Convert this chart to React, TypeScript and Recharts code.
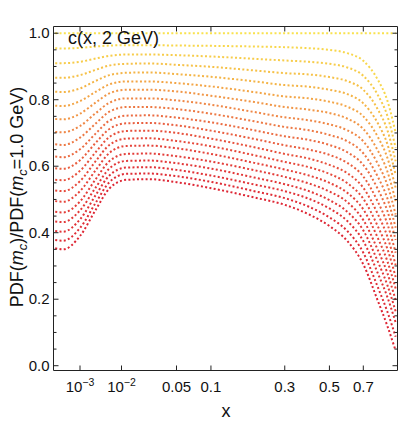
import React from 'react';
import { LineChart, Line, XAxis, YAxis } from 'recharts';

// x sample points (the axis is drawn on a cube-root scale, like the original)
const xPoints = [3e-5, 1.5e-4, 1e-3, 3e-3, 6e-3, 0.012, 0.025, 0.05, 0.1, 0.2, 0.3, 0.4, 0.5, 0.6, 0.7, 0.8, 0.87, 0.935];

// PDF(m_c)/PDF(m_c=1.0 GeV) for c(x, 2 GeV), one list per charm mass
const mc100 = [1, 1, 1, 1, 1, 1, 1, 1, 1, 1, 1, 1, 1, 1, 1, 1, 1, 1];
const mc105 = [0.955, 0.954, 0.956, 0.96, 0.963, 0.964, 0.964, 0.963, 0.962, 0.96, 0.958, 0.955, 0.95, 0.94, 0.917, 0.86, 0.798, 0.7];
const mc110 = [0.91, 0.91, 0.914, 0.924, 0.932, 0.936, 0.936, 0.934, 0.93, 0.923, 0.918, 0.914, 0.908, 0.897, 0.872, 0.814, 0.752, 0.655];
const mc115 = [0.866, 0.866, 0.874, 0.89, 0.903, 0.908, 0.909, 0.905, 0.899, 0.888, 0.88, 0.876, 0.868, 0.856, 0.83, 0.771, 0.709, 0.615];
const mc120 = [0.824, 0.823, 0.834, 0.857, 0.874, 0.881, 0.882, 0.877, 0.869, 0.855, 0.844, 0.839, 0.83, 0.817, 0.789, 0.729, 0.667, 0.575];
const mc125 = [0.782, 0.781, 0.796, 0.824, 0.846, 0.855, 0.855, 0.85, 0.84, 0.823, 0.81, 0.804, 0.794, 0.779, 0.75, 0.688, 0.626, 0.535];
const mc130 = [0.742, 0.741, 0.758, 0.792, 0.819, 0.83, 0.83, 0.825, 0.812, 0.793, 0.778, 0.77, 0.76, 0.743, 0.712, 0.647, 0.585, 0.495];
const mc135 = [0.703, 0.702, 0.721, 0.76, 0.791, 0.804, 0.804, 0.798, 0.785, 0.763, 0.747, 0.738, 0.726, 0.708, 0.675, 0.607, 0.544, 0.455];
const mc140 = [0.666, 0.664, 0.686, 0.729, 0.764, 0.778, 0.778, 0.772, 0.758, 0.735, 0.718, 0.708, 0.694, 0.675, 0.639, 0.568, 0.504, 0.415];
const mc145 = [0.629, 0.627, 0.651, 0.699, 0.737, 0.752, 0.753, 0.746, 0.732, 0.708, 0.69, 0.679, 0.664, 0.642, 0.604, 0.531, 0.466, 0.378];
const mc150 = [0.594, 0.592, 0.618, 0.671, 0.712, 0.729, 0.73, 0.723, 0.707, 0.682, 0.663, 0.65, 0.634, 0.61, 0.569, 0.493, 0.427, 0.34];
const mc155 = [0.559, 0.558, 0.586, 0.643, 0.688, 0.706, 0.707, 0.7, 0.683, 0.657, 0.637, 0.623, 0.604, 0.579, 0.535, 0.456, 0.389, 0.303];
const mc160 = [0.527, 0.525, 0.555, 0.616, 0.664, 0.683, 0.684, 0.676, 0.66, 0.633, 0.613, 0.597, 0.577, 0.549, 0.502, 0.419, 0.352, 0.267];
const mc165 = [0.495, 0.493, 0.525, 0.589, 0.64, 0.661, 0.662, 0.654, 0.637, 0.61, 0.59, 0.572, 0.55, 0.52, 0.47, 0.384, 0.315, 0.232];
const mc170 = [0.463, 0.461, 0.494, 0.562, 0.615, 0.637, 0.638, 0.63, 0.614, 0.588, 0.568, 0.548, 0.524, 0.492, 0.438, 0.348, 0.279, 0.197];
const mc175 = [0.434, 0.432, 0.467, 0.537, 0.593, 0.616, 0.617, 0.609, 0.593, 0.566, 0.546, 0.525, 0.498, 0.463, 0.407, 0.313, 0.243, 0.163];
const mc180 = [0.405, 0.403, 0.44, 0.514, 0.572, 0.596, 0.597, 0.589, 0.572, 0.545, 0.525, 0.502, 0.473, 0.435, 0.375, 0.278, 0.207, 0.13];
const mc185 = [0.378, 0.376, 0.414, 0.491, 0.552, 0.577, 0.578, 0.57, 0.553, 0.525, 0.504, 0.478, 0.446, 0.405, 0.34, 0.236, 0.163, 0.087];
const mc190 = [0.353, 0.35, 0.39, 0.47, 0.533, 0.559, 0.561, 0.552, 0.534, 0.506, 0.484, 0.455, 0.42, 0.375, 0.305, 0.195, 0.12, 0.045];

const curves = [mc100, mc105, mc110, mc115, mc120, mc125, mc130, mc135, mc140, mc145, mc150, mc155, mc160, mc165, mc170, mc175, mc180, mc185, mc190];

const xTicks = [0.001, 0.01, 0.05, 0.1, 0.3, 0.5, 0.7];
const xTickLabels = [['10', '−3'], ['10', '−2'], ['0.05'], ['0.1'], ['0.3'], ['0.5'], ['0.7']];
const yTicks = [0, 0.05, 0.1, 0.15, 0.2, 0.25, 0.3, 0.35, 0.4, 0.45, 0.5, 0.55, 0.6, 0.65, 0.7, 0.75, 0.8, 0.85, 0.9, 0.95, 1.0];

const FONT = '"Liberation Sans", Arial, Helvetica, sans-serif';
const FRAME = '#222';
const W = 399;
const H = 426;
// frame edges on half pixels so the 1px frame lines stay crisp
const LEFT = 53.5;
const TOP = 26.5;
const RIGHT = 397.5;
const BOTTOM = 370.5;

// yellow -> orange -> red
const stops: [number, number[]][] = [
  [0, [249, 226, 78]],
  [0.2, [245, 186, 70]],
  [0.4, [239, 132, 70]],
  [0.62, [231, 78, 60]],
  [1, [222, 38, 52]],
];
function colorAt(t: number) {
  for (let i = 1; i < stops.length; i++) {
    const [t1, c1] = stops[i];
    const [t0, c0] = stops[i - 1];
    if (t <= t1) {
      const f = (t - t0) / (t1 - t0);
      const c = c0.map((v, j) => Math.round(v + (c1[j] - v) * f));
      return `rgb(${c[0]},${c[1]},${c[2]})`;
    }
  }
  return 'rgb(222,38,52)';
}

const rows = xPoints.map((x, i) => {
  const r: Record<string, number> = { u: Math.cbrt(x) };
  curves.forEach((c, k) => {
    r['s' + k] = c[i];
  });
  return r;
});

// bottom ticks (with labels) plus the matching inward ticks on the top frame
const BottomTick = (props: any) => {
  const { x, y, index } = props;
  const lab = xTickLabels[index] || [''];
  return (
    <g>
      <line x1={x} y1={y} x2={x} y2={y - 5} stroke={FRAME} strokeWidth={1} />
      <line x1={x} y1={TOP} x2={x} y2={TOP + 5} stroke={FRAME} strokeWidth={1} />
      <text x={x} y={y + 21} textAnchor="middle" fontSize={15} fill="#111" fontFamily={FONT}>
        {lab[0]}
        {lab[1] && (
          <tspan fontSize={10.5} dy={-6}>
            {lab[1]}
          </tspan>
        )}
      </text>
    </g>
  );
};

// left ticks (with labels) plus the matching inward ticks on the right frame
const LeftTick = (props: any) => {
  const { x, y, index, payload } = props;
  const major = index % 4 === 0;
  const len = major ? 5 : 3;
  return (
    <g>
      <line x1={x} y1={y} x2={x + len} y2={y} stroke={FRAME} strokeWidth={1} />
      <line x1={RIGHT} y1={y} x2={RIGHT - len} y2={y} stroke={FRAME} strokeWidth={1} />
      {major && (
        <text x={x - 4} y={y + 5} textAnchor="end" fontSize={15} fill="#111" fontFamily={FONT}>
          {Number(payload.value).toFixed(1)}
        </text>
      )}
    </g>
  );
};

export default function App() {
  const uTicks = xTicks.map((t) => Math.cbrt(t));
  const uDomain = [0.0263, 0.983];
  const yDomain = [-0.0144, 1.0202];
  return (
    <div style={{ position: 'absolute', left: 0, top: 0, width: W, height: H, background: '#fff', fontFamily: FONT }}>
      <LineChart width={W} height={H} data={rows} margin={{ top: TOP, right: W - RIGHT, bottom: 0, left: 0 }}>
        <XAxis
          dataKey="u"
          type="number"
          domain={uDomain}
          allowDataOverflow
          ticks={uTicks}
          interval={0}
          height={H - BOTTOM}
          tickSize={0}
          tickMargin={0}
          tickLine={false}
          axisLine={{ stroke: FRAME, strokeWidth: 1 }}
          tick={<BottomTick />}
        />
        <YAxis
          type="number"
          domain={yDomain}
          allowDataOverflow
          ticks={yTicks}
          interval={0}
          width={LEFT}
          tickSize={0}
          tickMargin={0}
          tickLine={false}
          axisLine={{ stroke: FRAME, strokeWidth: 1 }}
          tick={<LeftTick />}
        />
        {curves.map((_, k) => (
          <Line
            key={k}
            dataKey={'s' + k}
            type="monotone"
            stroke={colorAt(k / (curves.length - 1))}
            strokeWidth={2}
            strokeDasharray="2 2.3"
            dot={false}
            activeDot={false}
            isAnimationActive={false}
          />
        ))}
      </LineChart>
      <svg width={W} height={H} style={{ position: 'absolute', left: 0, top: 0, pointerEvents: 'none' }}>
        <path d={`M${LEFT},${TOP} H${RIGHT} V${BOTTOM}`} fill="none" stroke={FRAME} strokeWidth={1} />
        <text x={68} y={44} fontSize={18} fill="#111" fontFamily={FONT}>
          c(x, 2 GeV)
        </text>
        <text transform="translate(23,197) rotate(-90)" textAnchor="middle" fontSize={18} fill="#111" fontFamily={FONT}>
          PDF(
          <tspan fontStyle="italic">m</tspan>
          <tspan fontStyle="italic" fontSize={13} dy={4}>c</tspan>
          <tspan dy={-4}>)/PDF(</tspan>
          <tspan fontStyle="italic">m</tspan>
          <tspan fontStyle="italic" fontSize={13} dy={4}>c</tspan>
          <tspan dy={-4}>=1.0 GeV)</tspan>
        </text>
        <text x={226} y={417} textAnchor="middle" fontSize={18} fill="#111" fontFamily={FONT}>
          x
        </text>
      </svg>
    </div>
  );
}
